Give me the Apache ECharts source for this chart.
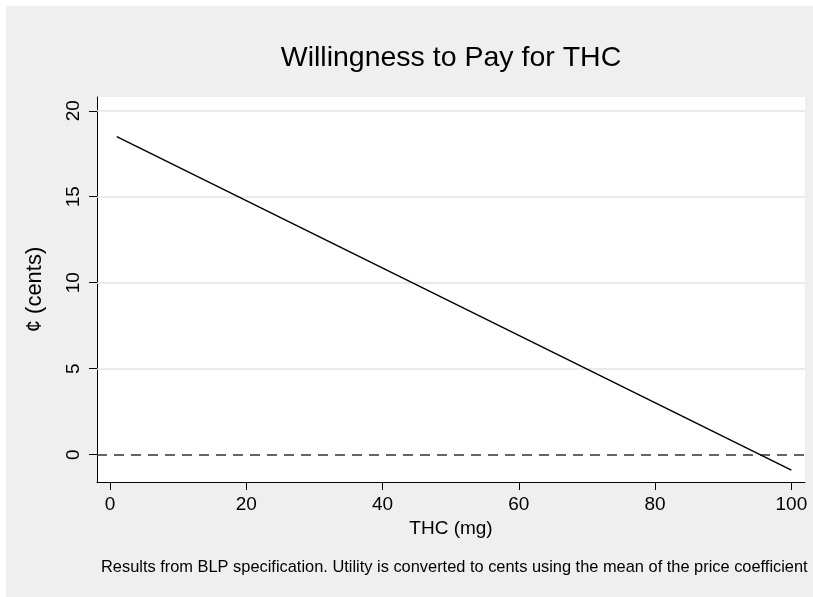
<!DOCTYPE html>
<html>
<head>
<meta charset="utf-8">
<script src="https://cdn.jsdelivr.net/npm/echarts@6/dist/echarts.min.js"></script>
<style>
  html, body { margin: 0; padding: 0; background: #efefef; }
  #chart { width: 813px; height: 597px; }
</style>
</head>
<body>
<div id="chart"></div>
<script>
// Willingness to pay (cents) as a function of THC content (mg)
const thcMg = [1, 100];
const wtpCents = [18.5, -0.9];

// Axis ticks and labels
const xTicks = [0, 20, 40, 60, 80, 100];
const yTicks = [0, 5, 10, 15, 20];
const gridValues = [5, 10, 15, 20];
const zeroLine = 0;

const titleText = 'Willingness to Pay for THC';
const xName = 'THC (mg)';
const yName = '¢ (cents)';
const noteText = 'Results from BLP specification. Utility is converted to cents using the mean of the price coefficient';

const FONT = '"Liberation Sans", Arial, Helvetica, sans-serif';

const chart = echarts.init(document.getElementById('chart'), null, { renderer: 'canvas' });

const option = {
  backgroundColor: '#efefef',
  animation: false,
  textStyle: { fontFamily: FONT, color: '#000' },
  graphic: [
    // thin white margin along the top and left edges
    { type: 'rect', left: 0, top: 0, shape: { width: 813, height: 6 }, style: { fill: '#ffffff' }, silent: true },
    { type: 'rect', left: 0, top: 0, shape: { width: 6, height: 597 }, style: { fill: '#ffffff' }, silent: true },
    {
      type: 'text', x: 451, y: 58,
      style: { text: titleText, fontFamily: FONT, fontSize: 28.5, fill: '#000', align: 'center', verticalAlign: 'middle' }
    },
    {
      type: 'text', x: 101, y: 567,
      style: { text: noteText, fontFamily: FONT, fontSize: 16.4, fill: '#000', align: 'left', verticalAlign: 'middle' }
    }
  ],
  grid: {
    left: 97, top: 97, right: 8, bottom: 115,
    show: true, backgroundColor: '#ffffff', borderWidth: 0,
    containLabel: false
  },
  xAxis: {
    type: 'value',
    min: -1.9, max: 102,
    name: xName,
    nameLocation: 'middle',
    nameGap: 27,
    nameTextStyle: { fontSize: 19, fontFamily: FONT, color: '#000' },
    axisLine: { show: true, onZero: false, lineStyle: { color: '#000', width: 1 } },
    axisTick: { show: true, length: 8, customValues: xTicks, lineStyle: { color: '#000' } },
    axisLabel: { customValues: xTicks, fontSize: 19, fontFamily: FONT, color: '#000', margin: 13 },
    splitLine: { show: false }
  },
  yAxis: {
    type: 'value',
    min: -1.59, max: 20.8,
    name: yName,
    nameLocation: 'middle',
    nameGap: 51,
    nameRotate: 90,
    nameTextStyle: { fontSize: 22, fontFamily: FONT, color: '#000' },
    axisLine: { show: true, onZero: false, lineStyle: { color: '#000', width: 1 } },
    axisTick: { show: true, length: 8, customValues: yTicks, lineStyle: { color: '#000' } },
    axisLabel: { customValues: yTicks, fontSize: 19, fontFamily: FONT, color: '#000', rotate: 90, margin: 14 },
    splitLine: { show: false }
  },
  series: [
    {
      type: 'line',
      data: thcMg.map((x, i) => [x, wtpCents[i]]),
      showSymbol: false,
      lineStyle: { color: '#000', width: 1.5 },
      z: 5,
      markLine: {
        silent: true,
        symbol: 'none',
        label: { show: false },
        data: [
          ...gridValues.map(v => ({ yAxis: v, lineStyle: { color: '#e3e3e3', width: 1.5, type: 'solid' } })),
          { yAxis: zeroLine, lineStyle: { color: '#333', width: 1.5, type: [10, 7] } }
        ]
      }
    }
  ]
};

chart.setOption(option);
</script>
</body>
</html>
